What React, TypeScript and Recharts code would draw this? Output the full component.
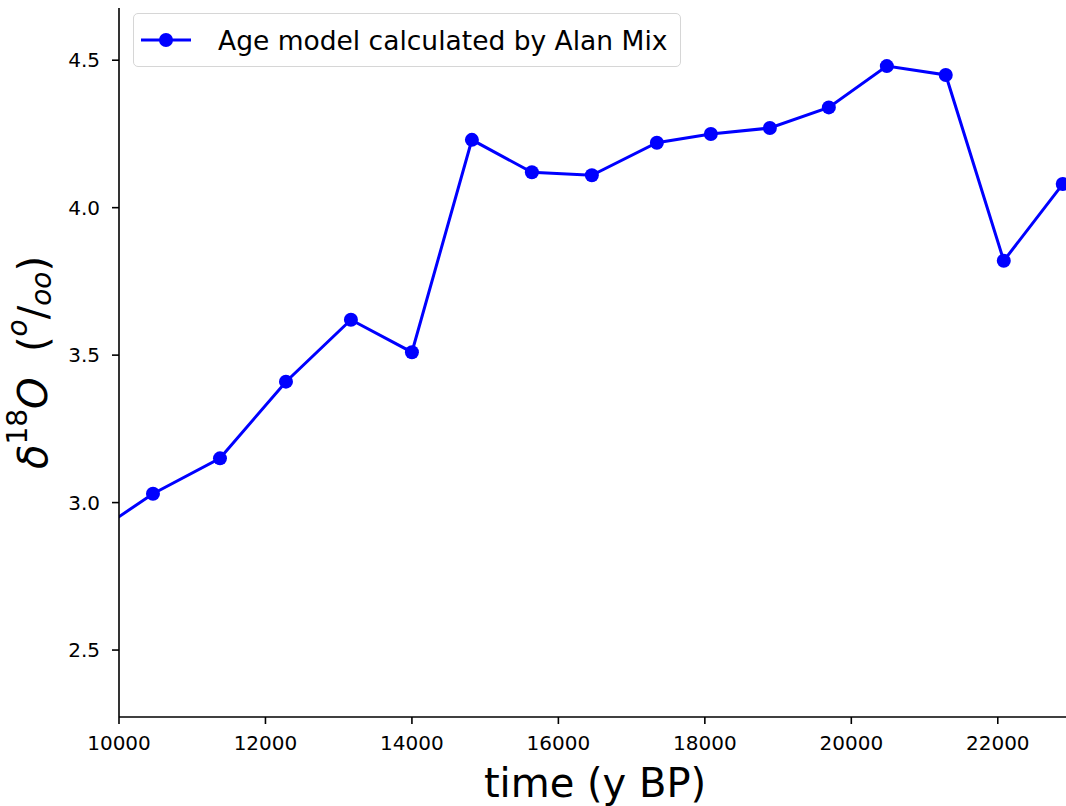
import React from 'react';
import { LineChart, Line, XAxis, YAxis, Legend } from 'recharts';

const ages = [9660, 10464, 11379, 12280, 13167, 14000, 14819, 15638, 16457, 17345, 18082, 18888, 19693, 20485, 21290, 22082, 22887];
const d18O = [2.895, 3.03, 3.15, 3.41, 3.62, 3.51, 4.23, 4.12, 4.11, 4.22, 4.25, 4.27, 4.34, 4.48, 4.45, 3.82, 4.08];
const xTicks = [10000, 12000, 14000, 16000, 18000, 20000, 22000];
const yTicks = [2.5, 3.0, 3.5, 4.0, 4.5];
const xDomain = [10000, 23000];
const yDomain = [2.273, 4.677];
const seriesName = 'Age model calculated by Alan Mix';
const xLabel = 'time (y BP)';

const data = ages.map((a, i) => ({ age: a, d18O: d18O[i] }));

const FONT = 'DejaVu Sans';
const BLUE = '#0000ff';

const YLabel = (props: any) => {
  const vb = props.viewBox || {};
  const cx = 33;
  const cy = (vb.y ?? 8) + (vb.height ?? 709) / 2;
  return (
    <text
      x={cx}
      y={cy}
      transform={`rotate(-90, ${cx}, ${cy})`}
      textAnchor="middle"
      dominantBaseline="central"
      fontFamily={FONT}
      fontSize={40}
      fill="#000"
    >
      <tspan fontStyle="italic">δ</tspan>
      <tspan fontSize={28} dy={-16}>18</tspan>
      <tspan fontStyle="italic" dy={16}>O</tspan>
      <tspan>{'\u00a0\u00a0('}</tspan>
      <tspan fontStyle="italic" fontSize={28} dy={-16}>o</tspan>
      <tspan dy={16}>/</tspan>
      <tspan fontStyle="italic" fontSize={28} dy={8}>oo</tspan>
      <tspan dy={-8}>)</tspan>
    </text>
  );
};

const LegendBox = () => (
  <div
    style={{
      display: 'flex',
      alignItems: 'center',
      border: '1.5px solid #d6d6d6',
      borderRadius: 5,
      background: 'rgba(255,255,255,0.8)',
      width: 548,
      height: 54,
      boxSizing: 'border-box',
      fontFamily: FONT,
      fontSize: 26.5,
      color: '#000',
    }}
  >
    <svg width={60} height={20} style={{ marginLeft: 6, flex: 'none' }}>
      <line x1={1} y1={10} x2={51} y2={10} stroke={BLUE} strokeWidth={3} />
      <circle cx={26} cy={10} r={7} fill={BLUE} />
    </svg>
    <span style={{ marginLeft: 18, whiteSpace: 'nowrap' }}>{seriesName}</span>
  </div>
);

export default function App() {
  return (
    <div style={{ position: 'absolute', left: 0, top: 0, width: 1066, height: 806, overflow: 'hidden', background: '#fff' }}>
      <LineChart
        width={1080}
        height={806}
        data={data}
        margin={{ top: 8, right: 9, left: 0, bottom: 0 }}
      >
        <XAxis
          xAxisId="top"
          orientation="top"
          dataKey="age"
          type="number"
          domain={xDomain}
          allowDataOverflow
          height={0}
          tick={false}
          tickLine={false}
          axisLine={{ stroke: '#000', strokeWidth: 1.6 }}
        />
        <XAxis
          dataKey="age"
          type="number"
          domain={xDomain}
          ticks={xTicks}
          allowDataOverflow
          height={89}
          interval={0}
          tickSize={7}
          tickMargin={12}
          tick={{ fontFamily: FONT, fontSize: 20, fill: '#000' }}
          tickLine={{ stroke: '#000', strokeWidth: 1.6 }}
          axisLine={{ stroke: '#000', strokeWidth: 1.6 }}
          label={{ value: xLabel, position: 'insideBottom', offset: 9, fontFamily: FONT, fontSize: 40, fill: '#000' }}
        />
        <YAxis
          type="number"
          domain={yDomain}
          ticks={yTicks}
          allowDataOverflow
          width={119}
          interval={0}
          tickSize={7}
          tickMargin={12}
          tickFormatter={(v: number) => v.toFixed(1)}
          tick={{ fontFamily: FONT, fontSize: 20, fill: '#000' }}
          tickLine={{ stroke: '#000', strokeWidth: 1.6 }}
          axisLine={{ stroke: '#000', strokeWidth: 1.6 }}
          label={<YLabel />}
        />
        <Legend
          layout="horizontal"
          verticalAlign="middle"
          align="center"
          content={() => <LegendBox />}
          wrapperStyle={{ top: 13, left: 133, width: 'auto', height: 'auto' }}
        />
        <Line
          dataKey="d18O"
          name={seriesName}
          stroke={BLUE}
          strokeWidth={3}
          dot={{ r: 7, fill: BLUE, stroke: BLUE, strokeWidth: 0 }}
          activeDot={false}
          isAnimationActive={false}
        />
      </LineChart>
    </div>
  );
}
